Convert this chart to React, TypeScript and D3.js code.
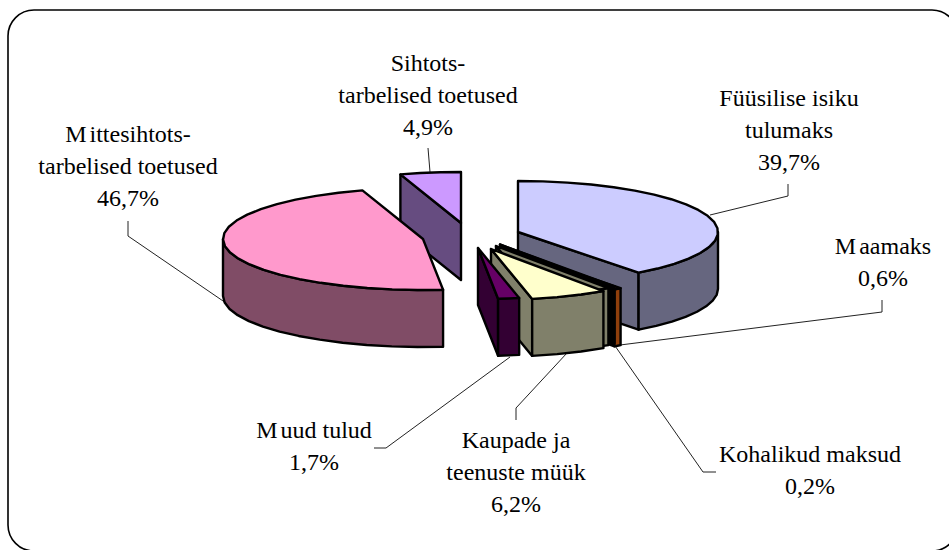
import React from "react";
import * as d3 from "d3";

const categories = ["Füüsilise isiku tulumaks", "Maamaks", "Kohalikud maksud", "Kaupade ja teenuste müük", "Muud tulud", "Mittesihtots-tarbelised toetused", "Sihtots-tarbelised toetused"];
const values = [39.7, 0.6, 0.2, 6.2, 1.7, 46.7, 4.9];
const valueLabels = ["39,7%", "0,6%", "0,2%", "6,2%", "1,7%", "46,7%", "4,9%"];
const labelLines = [
  ["Füüsilise isiku", "tulumaks"],
  ["Maamaks"],
  ["Kohalikud maksud"],
  ["Kaupade ja", "teenuste müük"],
  ["Muud tulud"],
  ["Mittesihtots-", "tarbelised toetused"],
  ["Sihtots-", "tarbelised toetused"],
];

// Layout and style, separate from the data
const topColors = ["#ccccff", "#993300", "#000000", "#ffffcc", "#660066", "#ff99cc", "#cc99ff"];
const wallColors = ["#66667f", "#8f3f0c", "#000000", "#80806a", "#330033", "#804c66", "#664c80"];
const apexes = [[518, 232], [500, 247.5], [500, 244.5], [491, 249], [478, 248], [423, 239], [461, 223]];
const labelPos = [[789, 106], [883, 254], [810, 462], [516, 448], [314, 438], [128, 142], [428, 71]];
const leaders = [
  [[788, 184], [788, 196], [710, 215]],
  [[882, 300], [882, 312], [620, 345]],
  [[716, 472], [703, 472], [613, 343]],
  [[516, 420], [516, 408], [567, 353]],
  [[374, 448], [386, 448], [510, 357]],
  [[128, 221], [128, 236], [226, 303]],
  [[428, 148], [430, 172]],
];
const drawOrder = [6, 5, 0, 1, 2, -3, 3, 4]; // -3: lighter back edge of slice 3
const backShift = [5, -3];
const RX = 200;
const RY = 51;
const DEPTH = 57;
const LINE_H = 32;
const FACET = 0.13;

const pieAngles = d3.pie<number>().sort(null).startAngle(0).endAngle(2 * Math.PI)(values);
const HALF = Math.PI / 2;
const line = d3.line<number[]>().curve(d3.curveLinear);

function rim(a: number[], t: number, depth = 0) {
  return [a[0] + RX * Math.sin(t), a[1] - RY * Math.cos(t) + depth];
}
function arcPts(a: number[], s: number, e: number, depth = 0) {
  const n = Math.max(2, Math.ceil((e - s) / FACET));
  return d3.range(n + 1).map((i) => rim(a, s + ((e - s) * i) / n, depth));
}

function Slice({ index, apex, top, wall }: { index: number; apex: number[]; top: string; wall: string }) {
  const { startAngle: s, endAngle: e } = pieAngles[index];
  const below = (p: number[]) => [p[0], p[1] + DEPTH];
  const walls: number[][][] = [];
  // straight cut walls that face the viewer
  if (Math.sin(e) > 0.001) walls.push([apex, rim(apex, e), below(rim(apex, e)), below(apex)]);
  if (Math.sin(s) < -0.001) walls.push([apex, rim(apex, s), below(rim(apex, s)), below(apex)]);
  // curved outer wall on the near half
  const ws = Math.max(s, HALF);
  const we = Math.min(e, 3 * HALF);
  if (we > ws) walls.push([...arcPts(apex, ws, we), ...arcPts(apex, ws, we, DEPTH).reverse()]);
  const topPts = [apex, ...arcPts(apex, s, e)];
  const style = { stroke: "#000", strokeWidth: 2.4, strokeLinejoin: "round" as const };
  return (
    <g>
      {walls.map((w, i) => (
        <path key={i} d={line(w) + "Z"} fill={wall} {...style} />
      ))}
      <path d={line(topPts) + "Z"} fill={top} {...style} />
    </g>
  );
}

// The reference sets a small gap after a capital M
function LabelLine({ text, x, y }: { text: string; x: number; y: number }) {
  if (text[0] === "M") {
    return (
      <tspan x={x} y={y}>
        M<tspan dx={3}>{text.slice(1)}</tspan>
      </tspan>
    );
  }
  return (
    <tspan x={x} y={y}>
      {text}
    </tspan>
  );
}

export default function App() {
  return (
    <svg
      width={949}
      height={550}
      viewBox="0 0 949 550"
      style={{ position: "absolute", left: 0, top: 0, background: "#fff" }}
      fontFamily="'Liberation Serif', serif"
    >
      <rect x={8} y={10} width={950} height={541} rx={26} ry={26} fill="#fff" stroke="#000" strokeWidth={1.6} />
      {leaders.map((l, i) => (
        <path key={i} d={line(l) ?? ""} fill="none" stroke="#222" strokeWidth={1} />
      ))}
      {drawOrder.map((o) => {
        if (o < 0) {
          const i = -o;
          return (
            <Slice
              key={o}
              index={i}
              apex={[apexes[i][0] + backShift[0], apexes[i][1] + backShift[1]]}
              top={wallColors[i]}
              wall={wallColors[i]}
            />
          );
        }
        return <Slice key={o} index={o} apex={apexes[o]} top={topColors[o]} wall={wallColors[o]} />;
      })}
      {categories.map((c, i) => (
        <text key={c} textAnchor="middle" fontSize={24} fill="#000">
          {[...labelLines[i], valueLabels[i]].map((t, j) => (
            <LabelLine key={j} text={t} x={labelPos[i][0]} y={labelPos[i][1] + j * LINE_H} />
          ))}
        </text>
      ))}
    </svg>
  );
}
